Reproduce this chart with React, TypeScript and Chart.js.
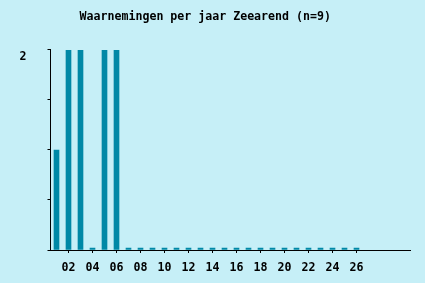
import React, { useEffect, useRef } from "react";
import { Chart, registerables } from "chart.js";

Chart.register(...registerables);

const categories = Array.from({ length: 30 }, (_, i) => String(i + 1).padStart(2, "0"));
const counts: (number | null)[] = [
  1, 2, 2, 0, 2, 2, 0, 0, 0, 0,
  0, 0, 0, 0, 0, 0, 0, 0, 0, 0,
  0, 0, 0, 0, 0, 0, null, null, null, null,
];
const lastLabelled = 26;
const titleText = "Waarnemingen per jaar Zeearend (n=9)";

const BG = "#c6eff7";
const BAR = "#0088a6";
const FONT = "'DejaVu Sans Mono', 'Liberation Mono', monospace";

export default function App() {
  const ref = useRef<HTMLCanvasElement | null>(null);

  useEffect(() => {
    document.body.style.margin = "0";
    const canvas = ref.current!;
    const chart = new Chart(canvas, {
      type: "bar",
      data: {
        labels: categories,
        datasets: [
          {
            data: counts,
            backgroundColor: BAR,
            borderWidth: 0,
            barThickness: 5,
            minBarLength: 2,
          },
        ],
      },
      options: {
        animation: false,
        responsive: false,
        maintainAspectRatio: false,
        devicePixelRatio: 1,
        layout: { padding: { left: 0, right: 14.5, top: 0, bottom: 0 } },
        plugins: {
          legend: { display: false },
          tooltip: { enabled: false },
          title: {
            display: true,
            text: titleText,
            color: "#000",
            font: { family: FONT, size: 11.6, weight: "bold", lineHeight: 1.2 },
            padding: { top: 10, bottom: 26 },
          },
        },
        scales: {
          x: {
            offset: true,
            afterFit: (s: any) => {
              s.height = 33;
            },
            border: { display: true, color: "#000", width: 1 },
            grid: {
              offset: false,
              drawOnChartArea: false,
              drawTicks: true,
              tickLength: 3,
              color: (ctx: any) => {
                const v = ctx.index + 1;
                return v % 2 === 0 && v <= lastLabelled ? "#000" : "rgba(0,0,0,0)";
              },
            },
            ticks: {
              autoSkip: false,
              maxRotation: 0,
              minRotation: 0,
              padding: 8,
              color: "#000",
              font: { family: FONT, size: 11.6, weight: "bold" },
              callback: (_v: any, i: number) => {
                const v = i + 1;
                return v % 2 === 0 && v <= lastLabelled ? categories[i] : "";
              },
            },
          },
          y: {
            min: 0,
            max: 2,
            afterFit: (s: any) => {
              s.width = 50.5;
            },
            border: { display: true, color: "#000", width: 1 },
            grid: {
              drawOnChartArea: false,
              drawTicks: true,
              tickLength: 3,
              color: "#000",
            },
            ticks: {
              stepSize: 0.5,
              padding: 21,
              labelOffset: 7,
              color: "#000",
              font: { family: FONT, size: 11.6, weight: "bold" },
              callback: (v: any) => (v === 2 ? "2" : ""),
            },
          },
        },
      },
      plugins: [
        {
          id: "bg",
          beforeDraw: (c: any) => {
            const g = c.ctx;
            g.save();
            g.fillStyle = BG;
            g.fillRect(0, 0, c.width, c.height);
            g.restore();
          },
        },
      ],
    });
    return () => chart.destroy();
  }, []);

  return (
    <div style={{ position: "fixed", left: 0, top: 0, width: 425, height: 283, background: BG }}>
      <canvas ref={ref} width={425} height={283} style={{ width: 425, height: 283, display: "block" }} />
    </div>
  );
}
